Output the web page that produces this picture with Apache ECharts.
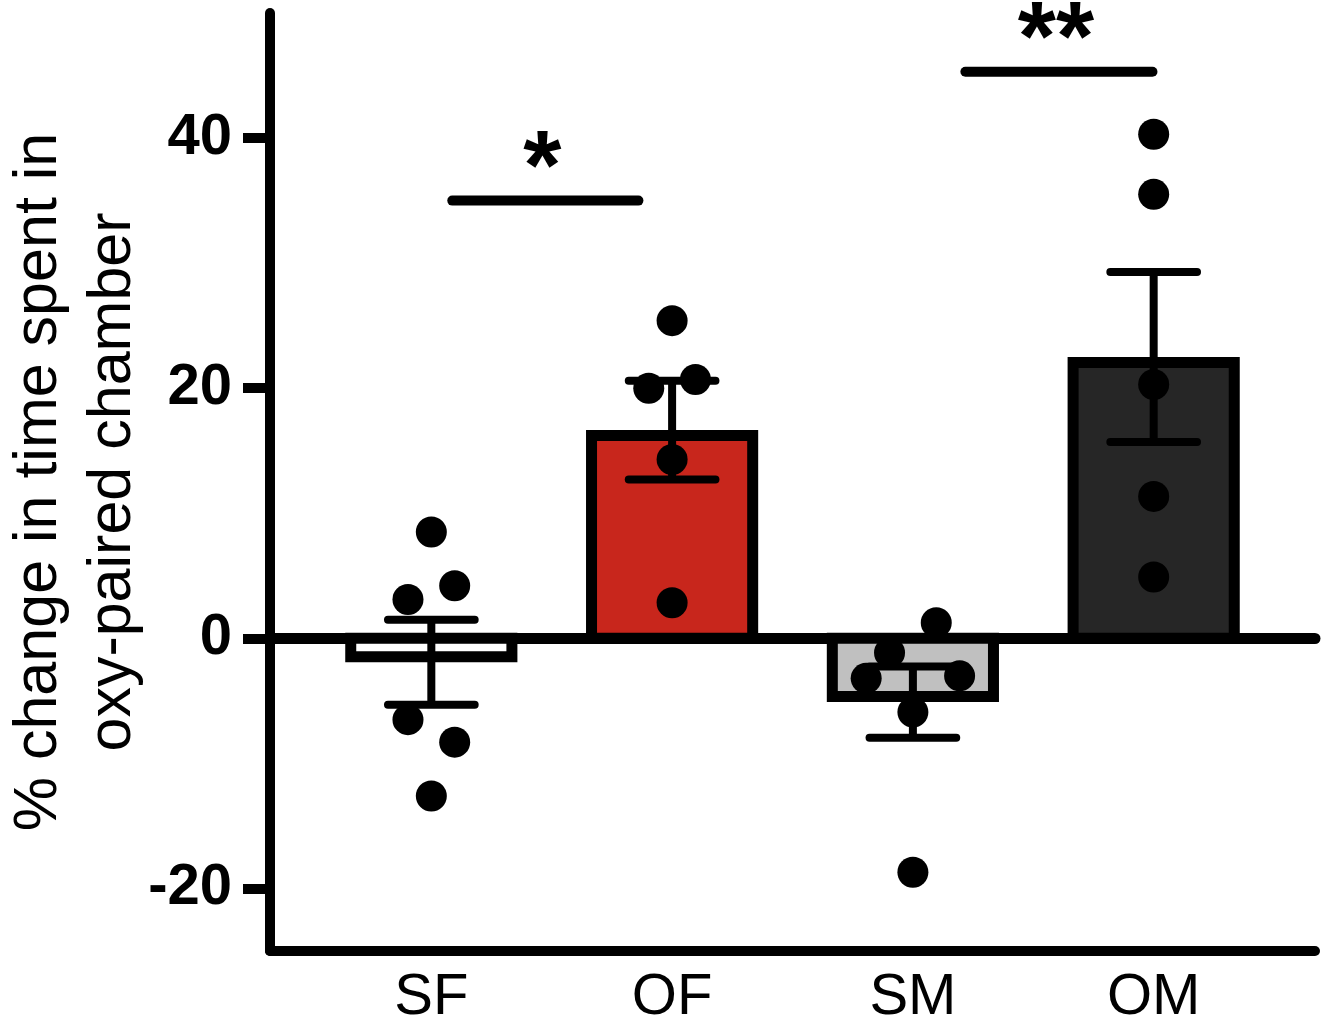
<!DOCTYPE html>
<html><head><meta charset="utf-8">
<script src="https://cdn.jsdelivr.net/npm/echarts@6/dist/echarts.min.js"></script>
<style>html,body{margin:0;padding:0;background:#fff}#c{width:1325px;height:1025px}</style>
</head><body><div id="c"></div>
<script>
// ---- data ----
const categories = ['SF', 'OF', 'SM', 'OM'];
const means = [-1.92, 16.65, -5.1, 22.5];
const sems = [3.4, 3.95, 2.85, 6.8];
const sfPoints = [8.5, 4.2, 3.1, -6.5, -8.3, -12.6];
const ofPoints = [25.4, 20.0, 20.7, 14.3, 2.85];
const smPoints = [1.25, -1.15, -3.2, -3.0, -5.9, -18.7];
const omPoints = [40.3, 35.5, 20.3, 11.35, 4.9];
// horizontal jitter slot of each point (Prism scatter spread)
const sfSlots = [0, 1, -1, -1, 1, 0];
const ofSlots = [0, -1, 1, 0, 0];
const smSlots = [1, -1, -2, 2, 0, 0];
const omSlots = [0, 0, 0, 0, 0];
const yTicks = [-20, 0, 20, 40];
// significance comparisons: [from x, to x, y level, label]
const sigFrom = [1.087, 3.218];
const sigTo = [1.86, 3.995];
const sigLevel = [35.0, 45.3];
const sigLabels = ['*', '**'];

// ---- styles ----
const FONT = '"Liberation Sans", Arial, Helvetica, sans-serif';
const barColors = ['#ffffff', '#c8261c', '#c0c0c0', '#262626'];
const BAR_W = 0.715;      // in category units
const BAR_BORDER = 11;
const CAP_W = 0.36;
const JIT = 0.097;

const pointSets = [[sfPoints, sfSlots], [ofPoints, ofSlots], [smPoints, smSlots], [omPoints, omSlots]];
const scatterData = [];
pointSets.forEach(([pts, slots], i) => {
  pts.forEach((v, k) => scatterData.push([i + 1 + slots[k] * JIT, v]));
});

function renderBar(params, api) {
  const x = api.value(0), v = api.value(1);
  const c = api.coord([x, v]), z = api.coord([x, 0]);
  const W = api.size([BAR_W, 0])[0];
  const lw = BAR_BORDER;
  const left = c[0] - W / 2 + lw / 2, w = W - lw;
  let top, h;
  if (v >= 0) { top = c[1] + lw / 2; h = z[1] - top; }
  else { top = z[1]; h = c[1] - lw / 2 - top; }
  return { type: 'rect', shape: { x: left, y: top, width: w, height: h },
    style: { fill: barColors[params.dataIndex], stroke: '#000', lineWidth: lw } };
}
function renderErr(params, api) {
  const x = api.value(0), m = api.value(1), s = api.value(2);
  const hi = api.coord([x, m + s]), lo = api.coord([x, m - s]);
  const cw = api.size([CAP_W, 0])[0] / 2;
  const st = { stroke: '#000', lineWidth: 8, lineCap: 'round' };
  return { type: 'group', children: [
    { type: 'line', shape: { x1: hi[0], y1: hi[1], x2: lo[0], y2: lo[1] }, style: { stroke: '#000', lineWidth: 8 } },
    { type: 'line', shape: { x1: hi[0] - cw, y1: hi[1], x2: hi[0] + cw, y2: hi[1] }, style: st },
    { type: 'line', shape: { x1: lo[0] - cw, y1: lo[1], x2: lo[0] + cw, y2: lo[1] }, style: st }
  ] };
}
function renderSig(params, api) {
  const a = api.coord([api.value(0), api.value(2)]);
  const b = api.coord([api.value(1), api.value(2)]);
  return { type: 'group', children: [
    { type: 'line', shape: { x1: a[0], y1: a[1], x2: b[0], y2: b[1] }, style: { stroke: '#000', lineWidth: 10, lineCap: 'round' } },
    { type: 'text', x: (a[0] + b[0]) / 2 - 3, y: a[1] - 29,
      style: { text: sigLabels[params.dataIndex], fontSize: 98, fontWeight: 'bold', fontFamily: FONT, align: 'center', verticalAlign: 'middle', fill: '#000' } }
  ] };
}

const chart = echarts.init(document.getElementById('c'), null, { renderer: 'canvas' });
chart.setOption({
  animation: false,
  backgroundColor: '#fff',
  grid: { left: 270, right: 10, top: 13, bottom: 74, containLabel: false, outerBoundsMode: 'none' },
  xAxis: [
    { type: 'value', min: 0.33, max: 4.67, position: 'bottom',
      axisLine: { onZero: false, lineStyle: { color: '#000', width: 10, cap: 'round' } },
      axisTick: { show: false }, splitLine: { show: false },
      axisLabel: { customValues: [1, 2, 3, 4], formatter: v => categories[Math.round(v) - 1],
        fontSize: 58, color: '#000', margin: 18, fontFamily: FONT } },
    { type: 'value', min: 0.33, max: 4.67, position: 'top',
      axisLine: { onZero: true, lineStyle: { color: '#000', width: 11, cap: 'round' } },
      axisTick: { show: false }, axisLabel: { show: false }, splitLine: { show: false } }
  ],
  yAxis: {
    type: 'value', min: -25, max: 50,
    axisLine: { show: true, onZero: false, lineStyle: { color: '#000', width: 10 } },
    axisTick: { show: true, customValues: yTicks, length: 27, lineStyle: { color: '#000', width: 10 } },
    axisLabel: { customValues: yTicks, fontSize: 58, fontWeight: 'bold', color: '#000', margin: 38, fontFamily: FONT },
    splitLine: { show: false },
    name: '% change in time spent in\noxy-paired chamber',
    nameLocation: 'middle', nameGap: 120, nameMoveOverlap: false,
    nameTextStyle: { fontSize: 61, lineHeight: 74, color: '#000', fontFamily: FONT }
  },
  series: [
    { type: 'custom', renderItem: renderBar, z: 2,
      data: categories.map((c, i) => [i + 1, means[i]]) },
    { type: 'custom', renderItem: renderErr, z: 3,
      data: categories.map((c, i) => [i + 1, means[i], sems[i]]) },
    { type: 'scatter', symbol: 'circle', symbolSize: 31, z: 4,
      itemStyle: { color: '#000', opacity: 1 }, data: scatterData },
    { type: 'custom', renderItem: renderSig, z: 5, clip: false,
      data: sigLevel.map((y, i) => [sigFrom[i], sigTo[i], y]) }
  ]
});
</script></body></html>
